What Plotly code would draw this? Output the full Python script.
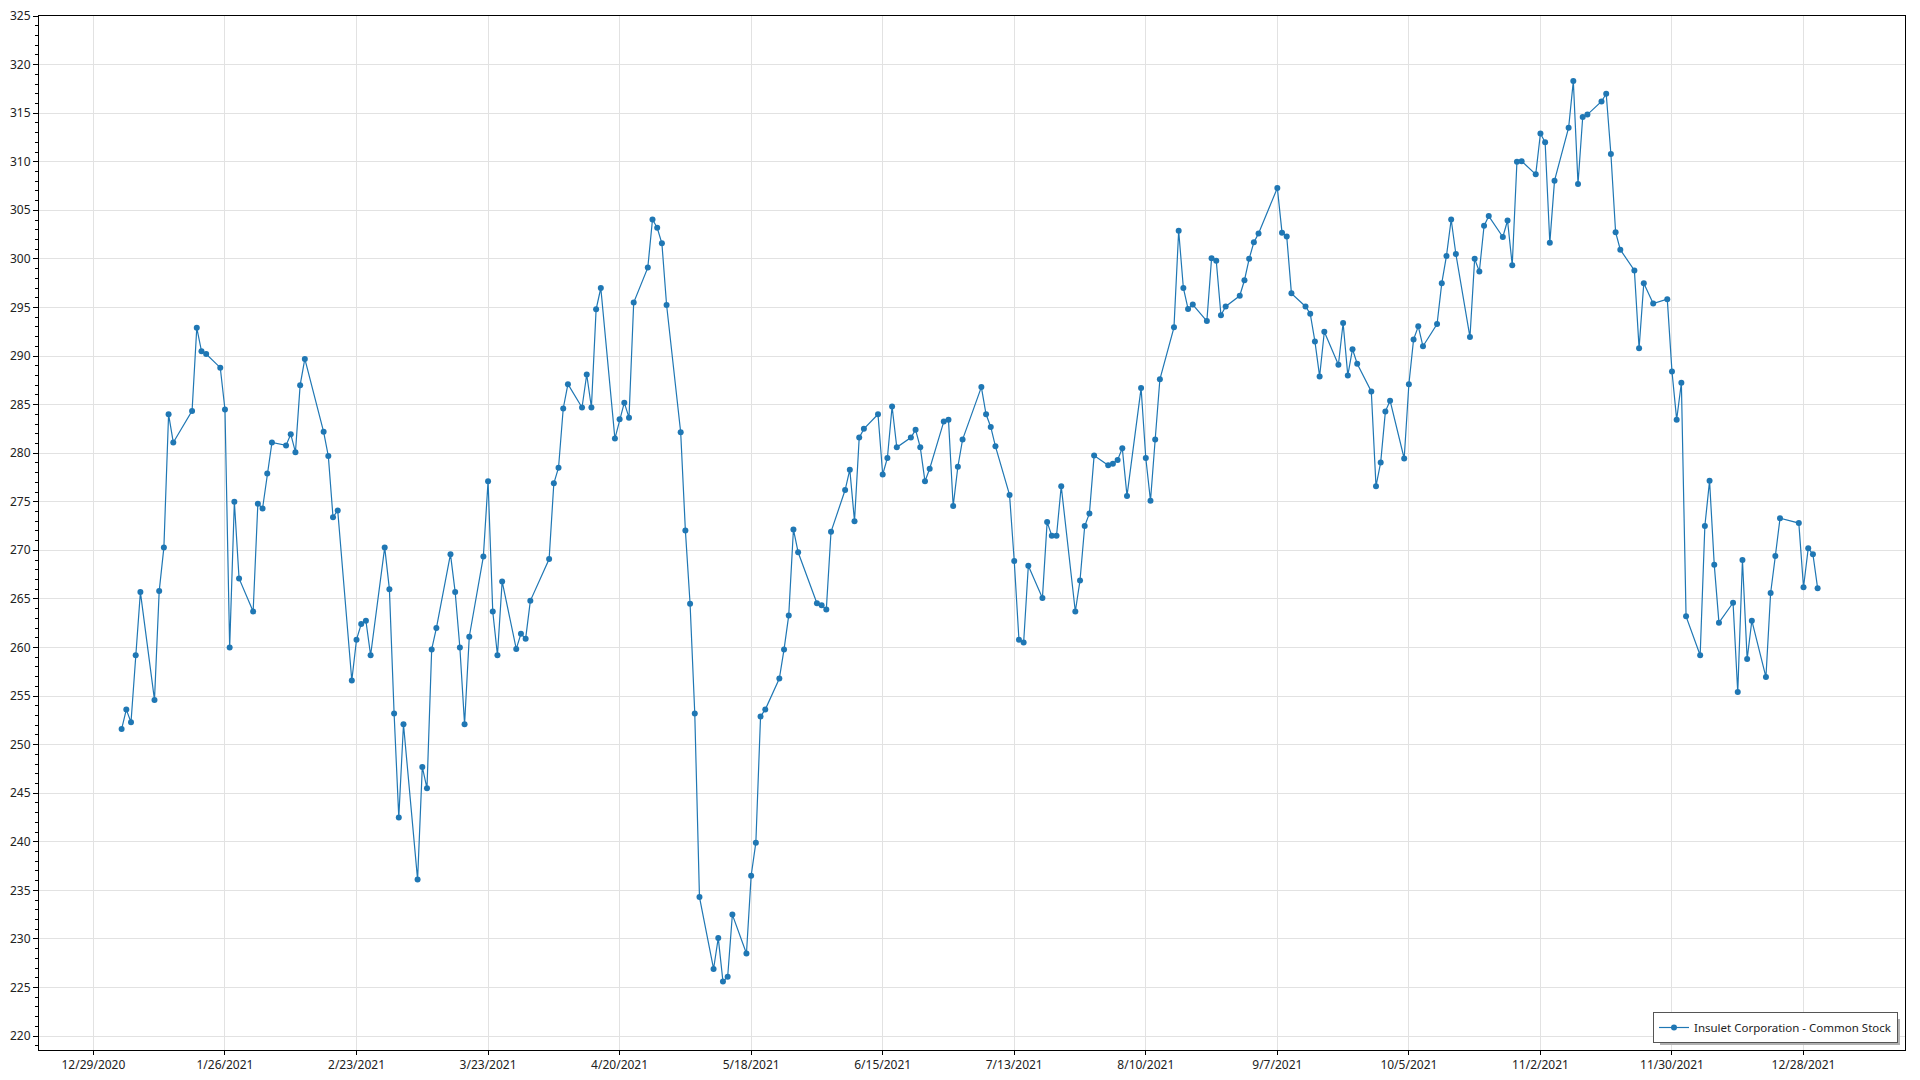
import pandas as pd
import plotly.graph_objects as go

# NYSE holidays in 2021 (non-trading weekdays)
holidays = ["2021-01-01", "2021-01-18", "2021-02-15", "2021-04-02", "2021-05-31",
            "2021-07-05", "2021-09-06", "2021-11-25", "2021-12-24"]

# Daily closing prices by month
jan = [251.6, 253.6, 252.3, 259.2, 265.7, 254.6, 265.8, 270.3, 284.0, 281.1,
       284.35, 292.9, 290.5, 290.2, 288.8, 284.5, 260.0, 275.0, 267.1]
feb = [263.7, 274.8, 274.3, 277.9, 281.1, 280.8, 281.95, 280.1, 287.0, 289.7,
       282.2, 279.7, 273.4, 274.1, 256.6, 260.8, 262.4, 262.75, 259.2]
mar = [270.3, 266.0, 253.2, 242.5, 252.1, 236.1, 247.7, 245.5, 259.8, 262.0,
       269.6, 265.7, 260.0, 252.1, 261.1, 269.35, 277.1, 263.7, 259.2, 266.8,
       259.85, 261.4, 260.9]
apr = [264.8, 269.1, 276.9, 278.5, 284.6, 287.1, 284.7, 288.1, 284.7, 294.8,
       297.0, 281.5, 283.5, 285.2, 283.65, 295.5, 299.1, 304.05, 303.2, 301.6,
       295.25]
may = [282.15, 272.05, 264.5, 253.2, 234.3, 226.9, 230.1, 225.6, 226.1, 232.5,
       228.5, 236.5, 239.9, 252.9, 253.6, 256.8, 259.8, 263.3, 272.15, 269.8]
jun = [264.55, 264.35, 263.9, 271.9, 276.2, 278.3, 273.0, 281.6, 282.5, 284.0,
       277.8, 279.5, 284.8, 280.6, 281.6, 282.4, 280.6, 277.1, 278.4, 283.25,
       283.45, 274.55]
jul = [278.6, 281.4, 286.8, 284.0, 282.7, 280.7, 275.7, 268.9, 260.8, 260.5,
       268.4, 265.1, 272.9, 271.5, 271.5, 276.6, 263.7, 266.9, 272.5, 273.8,
       279.75]
aug = [278.75, 278.9, 279.3, 280.5, 275.6, 286.7, 279.5, 275.1, 281.4, 287.6,
       292.95, 302.9, 297.0, 294.85, 295.3, 293.6, 300.05, 299.8, 294.2, 295.1,
       296.2, 297.8]
sep = [300.0, 301.7, 302.6, 307.3, 302.7, 302.3, 296.45, 295.1, 294.35, 291.5,
       287.9, 292.5, 289.1, 293.4, 288.0, 290.7, 289.2, 286.35, 276.6, 279.05,
       284.3]
octo = [285.4, 279.45, 287.1, 291.7, 293.05, 291.0, 293.3, 297.5, 300.3, 304.05,
        300.5, 291.95, 300.0, 298.7, 303.4, 304.4, 302.25, 303.95, 299.35, 310.0,
        310.05]
nov = [308.7, 312.9, 312.0, 301.65, 308.05, 313.5, 318.3, 307.7, 314.6, 314.85,
       316.2, 317.0, 310.8, 302.75, 300.95, 298.8, 290.8, 297.5, 295.4, 295.85,
       288.4]
dec = [283.45, 287.25, 263.2, 259.2, 272.5, 277.15, 268.5, 262.55, 264.6, 255.4,
       269.0, 258.8, 262.75, 256.95, 265.6, 269.4, 273.3, 272.8, 266.2, 270.2,
       269.6, 266.1]

prices = jan + feb + mar + apr + may + jun + jul + aug + sep + octo + nov + dec
dates = pd.bdate_range("2021-01-04", "2021-12-31", freq="C", holidays=holidays)

tick_dates = ["2020-12-29", "2021-01-26", "2021-02-23", "2021-03-23", "2021-04-20",
              "2021-05-18", "2021-06-15", "2021-07-13", "2021-08-10", "2021-09-07",
              "2021-10-05", "2021-11-02", "2021-11-30", "2021-12-28"]
tick_labels = ["12/29/2020", "1/26/2021", "2/23/2021", "3/23/2021", "4/20/2021",
               "5/18/2021", "6/15/2021", "7/13/2021", "8/10/2021", "9/7/2021",
               "10/5/2021", "11/2/2021", "11/30/2021", "12/28/2021"]

series_name = "Insulet Corporation - Common Stock"
color = "#1f77b4"

W, H = 1920, 1080
ML, MR, MT, MB = 39, 15, 16, 30
PW, PH = W - ML - MR, H - MT - MB


def px_x(p):
    return (p - ML) / PW


def px_y(p):
    return (H - MB - p) / PH


fig = go.Figure()
fig.add_trace(go.Scatter(
    x=dates, y=prices, mode="lines+markers", name=series_name,
    line=dict(color=color, width=1.2),
    marker=dict(size=6, color=color),
    showlegend=True,
))

font_family = "Noto Sans, Open Sans, sans-serif"
fig.update_layout(
    autosize=True,
    margin=dict(l=ML, r=MR, t=MT, b=MB, autoexpand=False),
    paper_bgcolor="white", plot_bgcolor="white",
    font=dict(family=font_family, size=12, color="#222222"),
    showlegend=True,
    legend=dict(x=px_x(1898), y=px_y(1043), xanchor="right", yanchor="bottom",
                bgcolor="white", bordercolor="#555555", borderwidth=1,
                font=dict(size=11.5, color="#222222")),
    # legend drop shadow
    shapes=[dict(type="rect", xref="paper", yref="paper", layer="above",
                 x0=px_x(1660), x1=px_x(1900), y0=px_y(1045), y1=px_y(1019),
                 line=dict(width=0), fillcolor="#b0b0b0")],
)
fig.update_xaxes(
    type="date",
    range=["2020-12-17 10:00", "2022-01-18 14:24"],
    tickvals=tick_dates, ticktext=tick_labels,
    ticks="outside", ticklen=4, tickcolor="black",
    showline=True, linecolor="black", linewidth=1, mirror=True,
    showgrid=True, gridcolor="#e2e2e2", gridwidth=1, zeroline=False,
)
fig.update_yaxes(
    range=[218.56, 325], tick0=220, dtick=5,
    ticks="outside", ticklen=5, tickcolor="black",
    minor=dict(dtick=1, ticks="outside", ticklen=3, tickcolor="black", showgrid=False),
    showline=True, linecolor="black", linewidth=1, mirror=True,
    showgrid=True, gridcolor="#e2e2e2", gridwidth=1, zeroline=False,
)

fig.write_html(
    "out.html",
    config={"displayModeBar": False},
    default_width="1920px",
    default_height="1080px; position:fixed; left:0; top:0",
)
